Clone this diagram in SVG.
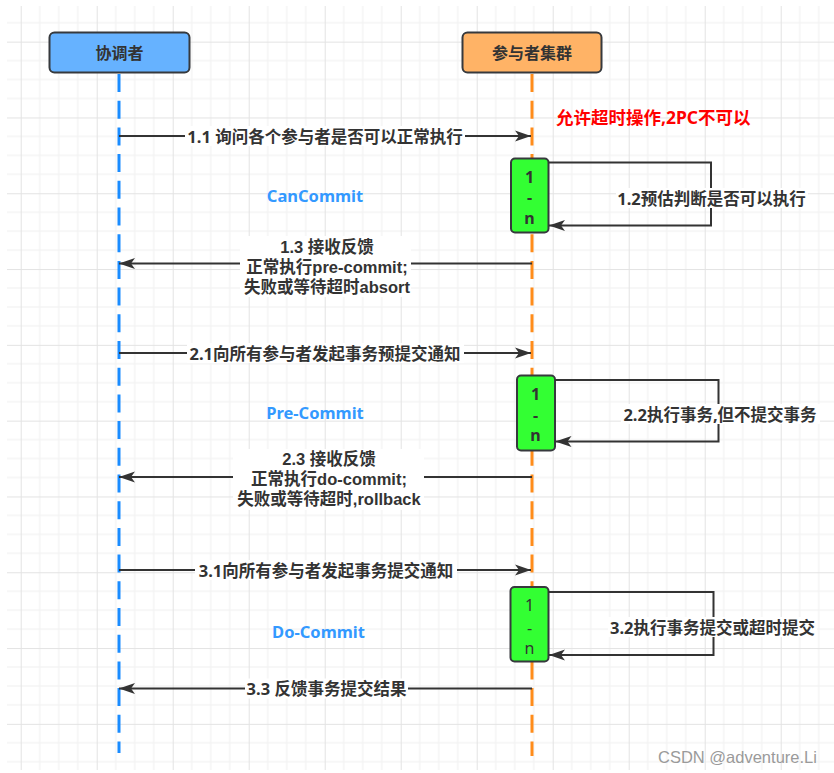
<svg xmlns="http://www.w3.org/2000/svg" width="834" height="773" viewBox="0 0 834 773">
<style>
  .lbl { font-family: "Noto Sans", "Noto Sans CJK SC", sans-serif; font-size: 16.5px; font-weight: bold; fill: #333333; text-anchor: middle; dominant-baseline: central; }
  .ml { font-family: "Liberation Sans", "Noto Sans CJK SC", sans-serif; font-size: 16.5px; font-weight: bold; fill: #333333; text-anchor: middle; dominant-baseline: central; }
  .hdr { font-family: "Noto Sans", "Noto Sans CJK SC", sans-serif; font-size: 16px; font-weight: bold; fill: #333333; text-anchor: middle; dominant-baseline: central; }
  .phase { font-family: "Noto Sans", "Noto Sans CJK SC", sans-serif; font-size: 16.5px; font-weight: bold; fill: #3399FF; text-anchor: middle; dominant-baseline: central; }
  .note { font-family: "Noto Sans", "Noto Sans CJK SC", sans-serif; font-size: 17.5px; font-weight: bold; fill: #FF0000; dominant-baseline: central; }
  .act { fill: #33FF33; stroke: #36393d; stroke-width: 2; }
  .actb { font-family: "Noto Sans", "Noto Sans CJK SC", sans-serif; font-size: 16px; font-weight: bold; fill: #333333; text-anchor: middle; dominant-baseline: central; }
  .actn { font-family: "Noto Sans", "Noto Sans CJK SC", sans-serif; font-size: 16px; font-weight: normal; fill: #333333; text-anchor: middle; dominant-baseline: central; }
  .msg { fill: none; stroke: #333333; stroke-width: 2; marker-end: url(#ah); }
  .bg { fill: #ffffff; }
  .life { fill: none; stroke-width: 3; stroke-dasharray: 18 8.7; }
  .minor { stroke: #efefef; stroke-width: 1; }
  .major { stroke: #e3e3e3; stroke-width: 1; }
  .wm { font-family: "Liberation Sans", Arial, sans-serif; font-size: 16.5px; fill: #9a9a9a; dominant-baseline: central; }
</style>
<defs>
  <pattern id="grid" patternUnits="userSpaceOnUse" x="20.7" y="41.65" width="76" height="75.8">
    <line class="minor" x1="19" y1="0" x2="19" y2="75.8"/>
    <line class="minor" x1="38" y1="0" x2="38" y2="75.8"/>
    <line class="minor" x1="57" y1="0" x2="57" y2="75.8"/>
    <line class="minor" x1="0" y1="18.95" x2="76" y2="18.95"/>
    <line class="minor" x1="0" y1="37.9" x2="76" y2="37.9"/>
    <line class="minor" x1="0" y1="56.85" x2="76" y2="56.85"/>
    <line class="major" x1="0.5" y1="0" x2="0.5" y2="75.8"/>
    <line class="major" x1="0" y1="0.5" x2="76" y2="0.5"/>
  </pattern>
  <marker id="ah" viewBox="0 0 16 12" refX="16" refY="6" markerWidth="16" markerHeight="12" markerUnits="userSpaceOnUse" orient="auto">
    <path d="M0,0.5 L16,6 L0,11.5 L4,6 Z" fill="#333333"/>
  </marker>
</defs>
<rect x="0" y="0" width="834" height="773" fill="#ffffff"/>
<rect x="7" y="6" width="827" height="764" fill="url(#grid)"/>

<g id="lifelines">
  <line class="life" x1="119" y1="74" x2="119" y2="753" stroke="#1A8CFF"/>
  <line class="life" x1="532" y1="74" x2="532" y2="756" stroke="#FF8C1A"/>
</g>

<g id="coordinator">
  <rect x="49.5" y="32.5" width="140" height="40" rx="5" fill="#66B2FF" stroke="#36393d" stroke-width="2"/>
  <text class="hdr" x="119.5" y="52.5">协调者</text>
</g>

<g id="participants">
  <rect x="462.5" y="32.5" width="139" height="40" rx="5" fill="#FFB366" stroke="#36393d" stroke-width="2"/>
  <text class="hdr" x="532" y="52.5">参与者集群</text>
</g>

<g id="note">
  <text class="note" x="556" y="117">允许超时操作,2PC不可以</text>
</g>

<g id="phases">
  <text class="phase" x="315" y="195">CanCommit</text>
  <text class="phase" x="315" y="412">Pre-Commit</text>
  <text class="phase" x="318.5" y="631">Do-Commit</text>
</g>

<g id="act1">
  <rect class="act" x="511" y="158.5" width="37.5" height="74" rx="4"/>
  <text class="actb" x="529.5" y="176.5">1</text>
  <text class="actb" x="529.5" y="197">-</text>
  <text class="actb" x="529.5" y="218">n</text>
</g>
<g id="act2">
  <rect class="act" x="517" y="375.5" width="38" height="75" rx="4"/>
  <text class="actb" x="535.5" y="393.5">1</text>
  <text class="actb" x="535.5" y="414.5">-</text>
  <text class="actb" x="535.5" y="435">n</text>
</g>
<g id="act3">
  <rect class="act" x="510.5" y="587" width="38" height="74.5" rx="4"/>
  <text class="actn" x="529.5" y="605">1</text>
  <text class="actn" x="529.5" y="628">-</text>
  <text class="actn" x="529.5" y="648">n</text>
</g>

<g id="connectors">
  <line class="msg" x1="119" y1="136" x2="531" y2="136"/>
  <path class="msg" d="M548.5,162.5 L711,162.5 L711,225.5 L549,225.5"/>
  <line class="msg" x1="532" y1="263.5" x2="119" y2="263.5"/>
  <line class="msg" x1="119" y1="353" x2="531" y2="353"/>
  <path class="msg" d="M555,380 L718.5,380 L718.5,441.5 L555.5,441.5"/>
  <line class="msg" x1="532" y1="477" x2="119" y2="477"/>
  <line class="msg" x1="119" y1="570" x2="531" y2="570"/>
  <path class="msg" d="M548.5,592 L713.5,592 L713.5,655 L549,655"/>
  <line class="msg" x1="532" y1="688.5" x2="119" y2="688.5"/>
</g>

<g id="labels">
  <rect class="bg" x="185" y="126" width="280" height="20"/>
  <text class="lbl" x="325" y="136">1.1 询问各个参与者是否可以正常执行</text>

  <rect class="bg" x="616" y="188" width="192" height="20"/>
  <text class="lbl" x="711.5" y="198">1.2预估判断是否可以执行</text>

  <rect class="bg" x="240" y="236" width="171" height="61"/>
  <text class="ml" x="327" y="246.5">1.3 接收反馈</text>
  <text class="ml" x="327" y="266.5">正常执行pre-commit;</text>
  <text class="ml" x="327" y="286.5">失败或等待超时absort</text>

  <rect class="bg" x="187" y="343" width="277" height="20"/>
  <text class="lbl" x="325" y="353">2.1向所有参与者发起事务预提交通知</text>

  <rect class="bg" x="621" y="404" width="199" height="20"/>
  <text class="lbl" x="720" y="414">2.2执行事务,但不提交事务</text>

  <rect class="bg" x="233" y="449" width="191" height="61"/>
  <text class="ml" x="329" y="459">2.3 接收反馈</text>
  <text class="ml" x="329" y="479">正常执行do-commit;</text>
  <text class="ml" x="329" y="499">失败或等待超时,rollback</text>

  <rect class="bg" x="195" y="560" width="262" height="20"/>
  <text class="lbl" x="326" y="570">3.1向所有参与者发起事务提交通知</text>

  <rect class="bg" x="608" y="617" width="209" height="20"/>
  <text class="lbl" x="712.5" y="627">3.2执行事务提交或超时提交</text>

  <rect class="bg" x="245" y="678.5" width="163" height="20"/>
  <text class="lbl" x="326.5" y="688.5">3.3 反馈事务提交结果</text>
</g>

<g id="watermark">
  <text class="wm" x="658" y="757">CSDN @adventure.Li</text>
</g>
</svg>
